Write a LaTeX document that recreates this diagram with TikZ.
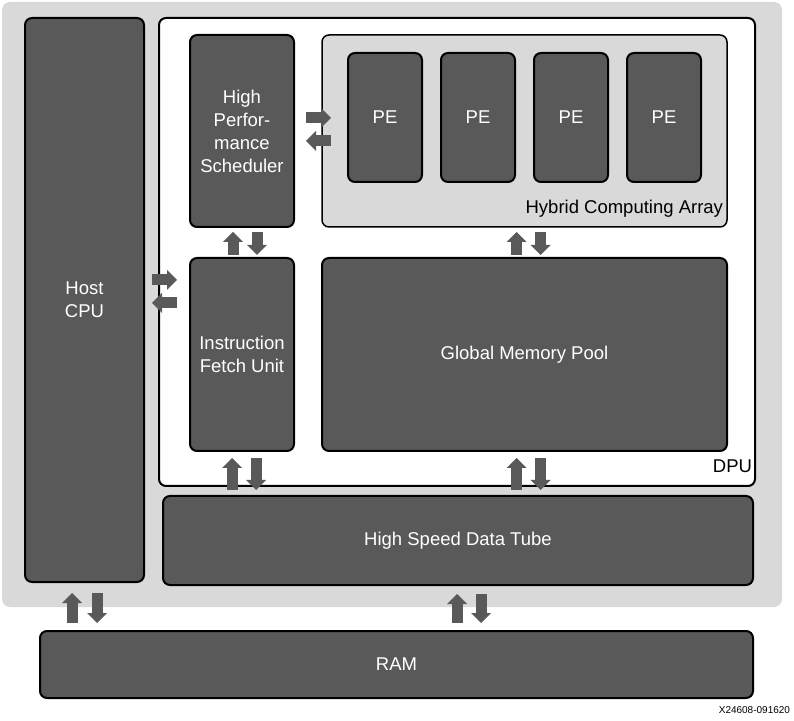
\documentclass[tikz,border=0pt]{standalone}
\usepackage{fontspec}
\setmainfont{Liberation Sans}
\usetikzlibrary{arrows.meta}
\definecolor{darkfill}{HTML}{595959}
\definecolor{lightfill}{HTML}{D9D9D9}
\begin{document}
\begin{tikzpicture}[x=1pt,y=1pt,
  every node/.style={inner sep=0pt, outer sep=0pt},
  darkbox/.style={draw=black, line width=2pt, fill=darkfill, rounded corners=7pt,
    text=white, align=center, anchor=south west,
    font=\fontsize{18.5}{23}\selectfont},
  whitebox/.style={draw=black, line width=2pt, fill=white, rounded corners=7pt, anchor=south west},
  graybox/.style={draw=black, line width=1.5pt, fill=lightfill, rounded corners=7pt, anchor=south west},
  plainlabel/.style={text=black, font=\fontsize{18.5}{23}\selectfont},
  barrow/.style={draw=darkfill, line width=11pt,
    -{Triangle[length=10pt,width=20pt,line width=0pt]}},
]
\useasboundingbox (0,0) rectangle (794,720);
% outer gray panel
\node[fill=lightfill, rounded corners=8pt, anchor=south west,
  minimum width=780pt, minimum height=605pt] (outer) at (2,113) {};
% host CPU
\node[darkbox, minimum width=119pt, minimum height=564pt] (host) at (25,138) {Host\\CPU};
% DPU
\node[whitebox, minimum width=596pt, minimum height=468pt] (dpu) at (159,234) {};
\node[plainlabel, anchor=east] (dpulabel) at (752,254) {DPU};
% scheduler
\node[darkbox, minimum width=104pt, minimum height=192pt] (sched) at (190,493) {High\\Perfor-\\mance\\Scheduler};
% hybrid computing array
\node[graybox, minimum width=405pt, minimum height=192pt] (hca) at (322,493) {};
\node[plainlabel, anchor=east] (hcalabel) at (723,511) {Hybrid Computing Array};
\node[darkbox, minimum width=74pt, minimum height=129pt] (pe1) at (348,538) {PE};
\node[darkbox, minimum width=74pt, minimum height=129pt] (pe2) at (441,538) {PE};
\node[darkbox, minimum width=74pt, minimum height=129pt] (pe3) at (534,538) {PE};
\node[darkbox, minimum width=74pt, minimum height=129pt] (pe4) at (627,538) {PE};
% instruction fetch unit
\node[darkbox, minimum width=104pt, minimum height=193pt] (ifu) at (190,269) {Instruction\\Fetch Unit};
% global memory pool
\node[darkbox, minimum width=405pt, minimum height=193pt] (gmp) at (322,269) {Global Memory Pool};
% high speed data tube
\node[darkbox, minimum width=590pt, minimum height=89pt] (hsdt) at (163,135) {High Speed Data Tube};
% RAM
\node[darkbox, minimum width=713pt, minimum height=67pt] (ram) at (40,22) {RAM};
% code
\node[text=black, font=\fontsize{10}{12}\selectfont, anchor=east] (code) at (790,10) {X24608-091620};

% arrows: scheduler <-> IFU
\draw[barrow] ([xshift=-9pt,yshift=3pt]ifu.north) -- ([xshift=-9pt,yshift=-5pt]sched.south);
\draw[barrow] ([xshift=15pt,yshift=-5pt]sched.south) -- ([xshift=15pt,yshift=3pt]ifu.north);
% HCA <-> GMP
\draw[barrow] ([xshift=-8pt,yshift=3pt]gmp.north) -- ([xshift=-8pt,yshift=-5pt]hca.south);
\draw[barrow] ([xshift=16pt,yshift=-5pt]hca.south) -- ([xshift=16pt,yshift=3pt]gmp.north);
% IFU <-> HSDT
\draw[barrow] ([xshift=-10pt,yshift=6pt]hsdt.north -| ifu.south) -- ([xshift=-10pt,yshift=-7pt]ifu.south);
\draw[barrow] ([xshift=14pt,yshift=-7pt]ifu.south) -- ([xshift=14pt,yshift=6pt]hsdt.north -| ifu.south);
% GMP <-> HSDT
\draw[barrow] ([xshift=-8pt,yshift=6pt]hsdt.north -| gmp.south) -- ([xshift=-8pt,yshift=-7pt]gmp.south);
\draw[barrow] ([xshift=16pt,yshift=-7pt]gmp.south) -- ([xshift=16pt,yshift=6pt]hsdt.north -| gmp.south);
% Host <-> RAM
\draw[barrow] ([xshift=-12.5pt,yshift=8pt]ram.north -| host.south) -- ([xshift=-12.5pt,yshift=-11pt]host.south);
\draw[barrow] ([xshift=12.5pt,yshift=-11pt]host.south) -- ([xshift=12.5pt,yshift=8pt]ram.north -| host.south);
% HSDT <-> RAM
\coordinate (hr) at (457,0);
\draw[barrow] ([yshift=8pt]ram.north -| hr) -- ([yshift=-9pt]hsdt.south -| hr);
\draw[barrow] ([xshift=24pt,yshift=-9pt]hsdt.south -| hr) -- ([xshift=24pt,yshift=8pt]ram.north -| hr);
% Host <-> IFU
\draw[barrow] ([xshift=8pt,yshift=20pt]host.east) -- ([xshift=-13pt,yshift=20pt]host.east -| ifu.west);
\draw[barrow] ([xshift=-13pt,yshift=-3pt]host.east -| ifu.west) -- ([xshift=8pt,yshift=-3pt]host.east);
% scheduler <-> HCA
\draw[barrow] ([xshift=12pt,yshift=13pt]sched.east) -- ([xshift=9pt,yshift=13pt]sched.east -| hca.west);
\draw[barrow] ([xshift=9pt,yshift=-10pt]sched.east -| hca.west) -- ([xshift=12pt,yshift=-10pt]sched.east);
\end{tikzpicture}
\end{document}
